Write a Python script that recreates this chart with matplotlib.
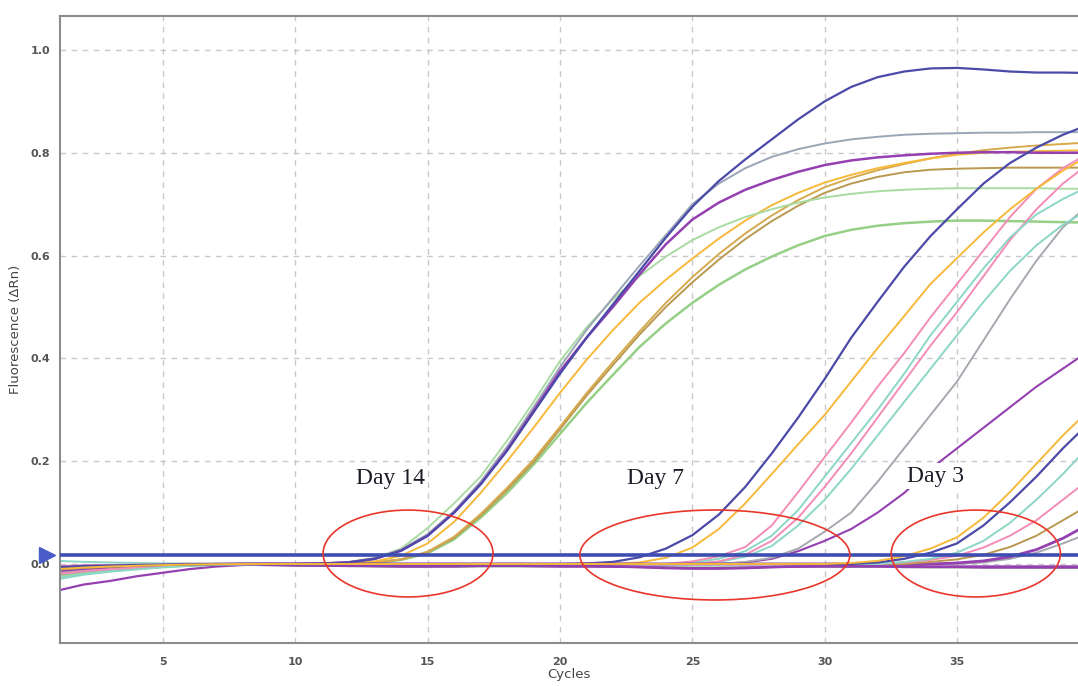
import matplotlib
matplotlib.use("Agg")
import matplotlib.pyplot as plt
from matplotlib.patches import Ellipse

# ---------------- data ----------------
cycles = list(range(1, 41))

# Day 14 group
A_green = [-0.015,-0.011,-0.008,-0.005,-0.003,-0.002,-0.001,0,0,0,
           0.001,0.004,0.012,0.03,0.07,0.118,0.17,0.24,0.315,0.395,
           0.46,0.515,0.56,0.598,0.63,0.655,0.675,0.69,0.703,0.713,
           0.72,0.725,0.728,0.73,0.731,0.731,0.731,0.731,0.73,0.73]
B_blue = [-0.01,-0.007,-0.005,-0.0035,-0.002,-0.001,0,0,0,0,
          0.001,0.003,0.01,0.026,0.055,0.1,0.155,0.22,0.295,0.37,
          0.44,0.505,0.57,0.635,0.695,0.745,0.787,0.826,0.865,0.9,
          0.928,0.947,0.958,0.964,0.965,0.962,0.958,0.956,0.956,0.955]
C_gray = [-0.02,-0.014,-0.01,-0.007,-0.0045,-0.0025,-0.001,0,0,0,
          0.001,0.003,0.011,0.028,0.058,0.103,0.16,0.228,0.305,0.383,
          0.455,0.518,0.58,0.64,0.7,0.74,0.77,0.792,0.807,0.818,
          0.826,0.831,0.835,0.837,0.838,0.839,0.839,0.84,0.84,0.84]
D_purple = [-0.005,-0.0035,-0.0025,-0.002,-0.001,0,0,0,0,0,
            0.001,0.003,0.01,0.026,0.055,0.1,0.155,0.222,0.298,0.375,
            0.44,0.5,0.563,0.622,0.67,0.703,0.728,0.747,0.763,0.776,
            0.785,0.791,0.795,0.798,0.8,0.801,0.801,0.8,0.8,0.8]
E_orange = [-0.012,-0.0085,-0.006,-0.004,-0.0025,-0.0015,-0.0006,0,0,0,
            0,0.001,0.005,0.016,0.04,0.082,0.138,0.2,0.265,0.333,
            0.397,0.455,0.508,0.553,0.594,0.633,0.668,0.698,0.722,0.742,
            0.757,0.77,0.78,0.789,0.796,0.8,0.802,0.803,0.804,0.805]
F_gold = [-0.008,-0.0055,-0.004,-0.0028,-0.0018,-0.001,0,0,0,0,
          0,0.001,0.003,0.009,0.024,0.053,0.097,0.148,0.203,0.267,
          0.332,0.393,0.452,0.508,0.558,0.603,0.643,0.678,0.708,0.733,
          0.751,0.766,0.778,0.789,0.798,0.805,0.81,0.814,0.817,0.82]
G_brown = [-0.018,-0.0126,-0.009,-0.0063,-0.004,-0.0022,-0.0009,-0.0004,0,0,
           0,0.001,0.003,0.009,0.023,0.051,0.094,0.144,0.198,0.262,
           0.327,0.387,0.446,0.5,0.548,0.592,0.632,0.667,0.697,0.722,
           0.74,0.753,0.762,0.767,0.769,0.77,0.771,0.771,0.771,0.771]
H_green = [-0.022,-0.015,-0.011,-0.0077,-0.0048,-0.0026,-0.0011,-0.0004,0,0,
           0,0.001,0.002,0.008,0.021,0.048,0.09,0.138,0.193,0.253,
           0.313,0.368,0.422,0.468,0.508,0.543,0.573,0.598,0.62,0.638,
           0.65,0.658,0.663,0.666,0.668,0.668,0.667,0.666,0.665,0.664]

# Day 7 group
I_blue = [-0.006,-0.004,-0.003,-0.002,-0.0013,-0.0007,-0.0003,0,0,0,
          0,0,0,0,0,0,0,0,0,0,
          0.001,0.004,0.013,0.03,0.056,0.096,0.15,0.215,0.285,0.36,
          0.44,0.51,0.578,0.638,0.69,0.74,0.78,0.81,0.835,0.855]
J_orange = [-0.012,-0.0085,-0.006,-0.004,-0.0025,-0.0015,-0.0006,0,0,0,
            0,0,0,0,0,0,0,0,0,0,
            0,0,0.003,0.012,0.032,0.068,0.118,0.175,0.233,0.29,
            0.355,0.42,0.482,0.545,0.595,0.645,0.69,0.73,0.765,0.795]
K1_pink = [-0.004,-0.003,-0.002,-0.0014,-0.0009,-0.0005,-0.0002,0,0,0,
           0,0,0,0,0,0,0,0,0,0,
           0,0,0,0,0.005,0.015,0.033,0.075,0.14,0.208,
           0.275,0.345,0.41,0.48,0.545,0.61,0.675,0.73,0.77,0.8]
L1_teal = [0.006,0.0042,0.003,0.0021,0.0013,0.0007,0.0003,0,0,0,
           0,0,0,0,0,0,0,0,0,0,
           0,0,0,0,0.003,0.01,0.025,0.055,0.105,0.17,
           0.235,0.3,0.37,0.445,0.51,0.575,0.635,0.68,0.71,0.735]
K2_pink = [-0.016,-0.011,-0.008,-0.0056,-0.0035,-0.0019,-0.0008,-0.0003,0,0,
           0,0,0,0,0,0,0,0,0,0,
           0,0,0,0,0,0.005,0.018,0.045,0.09,0.15,
           0.215,0.285,0.355,0.425,0.49,0.56,0.63,0.69,0.74,0.78]
L2_teal = [-0.028,-0.0196,-0.014,-0.0098,-0.0062,-0.0034,-0.0014,-0.0006,0,0,
           0,0,0,0,0,0,0,0,0,0,
           0,0,0,0,0,0.004,0.014,0.035,0.075,0.125,
           0.185,0.25,0.315,0.38,0.445,0.51,0.57,0.62,0.66,0.69]
M_gray = [-0.02,-0.014,-0.01,-0.007,-0.0044,-0.0024,-0.001,-0.0004,0,0,
          0,0,0,0,0,0,0,0,0,0,
          0,0,0,0,0,0,0.004,0.012,0.03,0.063,
          0.1,0.16,0.225,0.29,0.355,0.435,0.515,0.59,0.655,0.7]
N_purple = [-0.01,-0.007,-0.005,-0.0035,-0.0022,-0.0012,-0.0005,0,0,0,
            0,0,0,0,0,0,0,0,0,0,
            0,0,0,0,0,0,0.003,0.01,0.025,0.045,
            0.068,0.1,0.138,0.185,0.225,0.265,0.305,0.345,0.38,0.415]

# Day 3 group
O_orange = [-0.01,-0.007,-0.005,-0.0035,-0.0022,-0.0012,-0.0005,0,0,0,
            0,0,0,0,0,0,0,0,0,0,
            0,0,0,0,0,0,0,0,0,0,
            0.002,0.006,0.015,0.03,0.052,0.09,0.14,0.195,0.25,0.3]
P_blue = [-0.009,-0.0063,-0.0045,-0.0032,-0.002,-0.0011,-0.0005,0,0,0,
          0,0,0,0,0,0,0,0,0,0,
          0,0,0,0,0,0,0,0,0,0,
          0,0.003,0.01,0.022,0.04,0.075,0.12,0.17,0.225,0.275]
Q_teal = [-0.03,-0.021,-0.015,-0.0105,-0.0066,-0.0036,-0.0015,-0.0006,0,0,
          0,0,0,0,0,0,0,0,0,0,
          0,0,0,0,0,0,0,0,0,0,
          0,0,0.004,0.01,0.022,0.045,0.08,0.125,0.175,0.23]
R_pink = [-0.02,-0.014,-0.01,-0.007,-0.0044,-0.0024,-0.001,-0.0004,0,0,
          0,0,0,0,0,0,0,0,0,0,
          0,0,0,0,0,0,0,0,0,0,
          0,0,0.003,0.008,0.016,0.032,0.055,0.085,0.125,0.165]
S_brown = [-0.011,-0.0077,-0.0055,-0.0039,-0.0024,-0.0013,-0.0006,0,0,0,
           0,0,0,0,0,0,0,0,0,0,
           0,0,0,0,0,0,0,0,0,0,
           0,0,0,0.004,0.009,0.018,0.033,0.055,0.085,0.115]
T_purple = [-0.013,-0.009,-0.0065,-0.0046,-0.0029,-0.0016,-0.0007,0,0,0,
            0,0,0,0,0,0,0,0,0,0,
            0,0,0,0,0,0,0,0,0,0,
            0,0,0,0,0.002,0.006,0.014,0.028,0.05,0.078]
U_gray = [-0.017,-0.012,-0.0085,-0.006,-0.0037,-0.002,-0.0009,-0.0003,0,0,
          0,0,0,0,0,0,0,0,0,0,
          0,0,0,0,0,0,0,0,0,0,
          0,0,0,0,0,0.003,0.01,0.022,0.04,0.06]

# non-amplifying wells
Z1_purple = [-0.052,-0.04,-0.033,-0.024,-0.017,-0.01,-0.005,-0.002,-0.001,-0.002,
             -0.003,-0.004,-0.004,-0.005,-0.005,-0.005,-0.004,-0.004,-0.004,-0.005,
             -0.005,-0.005,-0.006,-0.007,-0.008,-0.008,-0.007,-0.006,-0.005,-0.005,
             -0.005,-0.005,-0.006,-0.006,-0.006,-0.007,-0.007,-0.007,-0.007,-0.007]
Z2_green = [-0.025,-0.0175,-0.0125,-0.0088,-0.0055,-0.003,-0.0015,-0.001,-0.002,-0.003,
            -0.004,-0.004,-0.005,-0.006,-0.006,-0.006,-0.005,-0.005,-0.005,-0.005,
            -0.005,-0.005,-0.005,-0.005,-0.006,-0.006,-0.006,-0.006,-0.006,-0.006,
            -0.006,-0.006,-0.006,-0.007,-0.007,-0.007,-0.007,-0.008,-0.008,-0.008]
Z3_purple = [-0.008,-0.006,-0.004,-0.003,-0.002,-0.001,-0.001,-0.001,-0.002,-0.003,
             -0.003,-0.003,-0.004,-0.004,-0.004,-0.003,-0.003,-0.003,-0.004,-0.004,
             -0.004,-0.005,-0.006,-0.008,-0.009,-0.009,-0.008,-0.006,-0.005,-0.004,
             -0.004,-0.004,-0.004,-0.005,-0.005,-0.005,-0.005,-0.005,-0.005,-0.005]

threshold = 0.0175
x_ticks = [5, 10, 15, 20, 25, 30, 35]
y_ticks = [0.0, 0.2, 0.4, 0.6, 0.8, 1.0]
y_tick_labels = ["0.0", "0.2", "0.4", "0.6", "0.8", "1.0"]
day_labels = ["Day 14", "Day 7", "Day 3"]
day_label_pos = [(13.6, 0.167), (23.6, 0.167), (34.17, 0.171)]
circle_centers = [(14.26, 0.0204), (25.85, 0.0175), (35.71, 0.0204)]
circle_sizes = [(6.42, 0.169), (10.2, 0.175), (6.39, 0.169)]

# ---------------- styles ----------------
BLUE = "#4b4aa8"
PURPLE = "#9440b0"
GRAYBLUE = "#9aa6b6"
LGREEN = "#a9dba2"
GREEN2 = "#96cf86"
ORANGE = "#f6b93b"
GOLD = "#d6a94c"
BROWN = "#b99850"
PINK = "#f38cb6"
TEAL = "#8cd6c6"
GRAY = "#a6a8b0"

series = [
    (Z2_green, LGREEN, 1.4), (Z3_purple, PURPLE, 1.8), (Z1_purple, PURPLE, 1.6),
    (H_green, GREEN2, 1.8), (G_brown, BROWN, 1.4), (F_gold, GOLD, 1.4),
    (E_orange, ORANGE, 1.4), (A_green, LGREEN, 1.4), (C_gray, GRAYBLUE, 1.4),
    (D_purple, PURPLE, 1.8), (B_blue, BLUE, 1.6),
    (N_purple, PURPLE, 1.5), (M_gray, GRAY, 1.4), (L2_teal, TEAL, 1.4),
    (K2_pink, PINK, 1.4), (L1_teal, TEAL, 1.4), (K1_pink, PINK, 1.4),
    (J_orange, ORANGE, 1.4), (I_blue, BLUE, 1.6),
    (U_gray, GRAY, 1.4), (T_purple, PURPLE, 2.0), (S_brown, BROWN, 1.4),
    (R_pink, PINK, 1.4), (Q_teal, TEAL, 1.4), (P_blue, BLUE, 1.6),
    (O_orange, ORANGE, 1.4),
]

fig = plt.figure(figsize=(10.78, 6.86), dpi=100)
ax = fig.add_axes([60/1078, 43/686, 1018/1078, 627/686])
ax.set_xlim(1.11, 39.57)
ax.set_ylim(-0.1537, 1.066)

ax.set_xticks(x_ticks)
ax.set_yticks(y_ticks)
ax.set_yticklabels(y_tick_labels)
ax.tick_params(axis="both", length=0, labelsize=8, labelcolor="#555555")
ax.tick_params(axis="x", pad=10)
ax.tick_params(axis="y", pad=7)
for lab in ax.get_xticklabels() + ax.get_yticklabels():
    lab.set_fontweight("bold")

ax.grid(True, color="#c8c8c8", linestyle=(0, (4, 4)), linewidth=1.0, zorder=0)
ax.set_axisbelow(True)

for side in ["left", "top", "bottom"]:
    ax.spines[side].set_color("#8c8c8c")
    ax.spines[side].set_linewidth(1.5)
ax.spines["right"].set_visible(False)

for vals, col, lw in series:
    ax.plot(cycles, vals, color=col, lw=lw, zorder=2, solid_capstyle="round")

ax.axhline(threshold, color="#3d4db2", lw=2.6, zorder=3)
ax.plot([0.62], [threshold], marker=">", markersize=12, color="#4a5cc8",
        clip_on=False, zorder=6)

for (cx, cy), (w, h) in zip(circle_centers, circle_sizes):
    ax.add_patch(Ellipse((cx, cy), w, h, fill=False, edgecolor="#e8362a",
                         lw=1.2, zorder=4))

for txt, (tx, ty) in zip(day_labels, day_label_pos):
    ax.text(tx, ty, txt, fontsize=17, family="Liberation Serif", color="#1c1c28",
            ha="center", va="center", zorder=5,
            bbox=dict(facecolor="white", edgecolor="none", pad=1.5))

ax.set_xlabel("Cycles", fontsize=9.5, color="#444444", labelpad=1)
ax.set_ylabel("Fluorescence (\u0394Rn)", fontsize=9.5, color="#444444", labelpad=6)

fig.savefig("out.png", dpi=100)
